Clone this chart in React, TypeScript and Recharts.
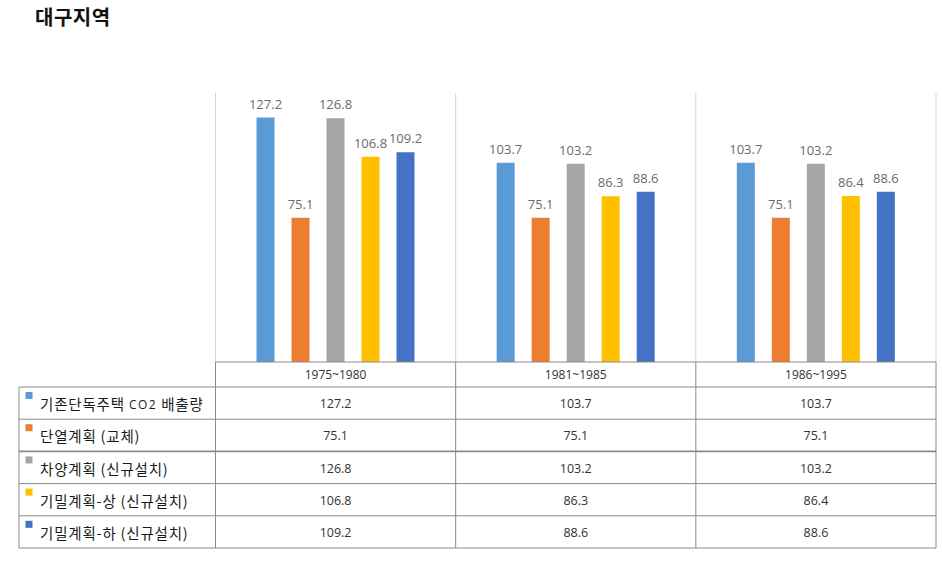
import React from "react";
import { BarChart, Bar, XAxis, YAxis, CartesianGrid, LabelList } from "recharts";

const title = "대구지역";
const periods = ["1975~1980", "1981~1985", "1986~1995"];
const seriesNames = [
  "기존단독주택 CO2 배출량",
  "단열계획 (교체)",
  "차양계획 (신규설치)",
  "기밀계획-상 (신규설치)",
  "기밀계획-하 (신규설치)",
];
const existing = [127.2, 103.7, 103.7];
const insulation = [75.1, 75.1, 75.1];
const shading = [126.8, 103.2, 103.2];
const airtightHigh = [106.8, 86.3, 86.4];
const airtightLow = [109.2, 88.6, 88.6];
const seriesValues = [existing, insulation, shading, airtightHigh, airtightLow];
const seriesColors = ["#5B9BD5", "#ED7D31", "#A5A5A5", "#FFC000", "#4472C4"];
const seriesKeys = ["s0", "s1", "s2", "s3", "s4"];

const data = periods.map((p, i) => {
  const row: Record<string, any> = { period: p };
  seriesKeys.forEach((k, s) => {
    row[k] = seriesValues[s][i];
  });
  return row;
});

const W = 942;
const H = 566;
const PLOT_L = 215.5;
const PLOT_R = 936;
const PLOT_T = 93;
const PLOT_B = 362;
const HEADER_H = 25;
const ROW_H = 32.2;
const TABLE_L = 19;
const TABLE_LINE = "#8a8a8a";
const GRID_LINE = "#d4d4d4";
const FONT = "'Noto Sans CJK KR', 'Noto Sans', sans-serif";
const NUM_FONT = "'Open Sans', 'Noto Sans', sans-serif";

const TableColumn = (props: any) => {
  const { x, y, payload, index } = props;
  const bw = (PLOT_R - PLOT_L) / periods.length;
  const left = x - bw / 2;
  const right = x + bw / 2;
  const bottom = y + HEADER_H + ROW_H * seriesNames.length;
  const els: any[] = [];
  els.push(<line key="ht" x1={left} x2={right} y1={y} y2={y} stroke={TABLE_LINE} strokeWidth={1} />);
  els.push(
    <text key="hd" x={x} y={y + HEADER_H / 2} textAnchor="middle" dominantBaseline="central" fontSize={12} fill="#333" fontFamily={NUM_FONT}>
      {payload.value}
    </text>
  );
  els.push(<line key="vl" x1={left} x2={left} y1={y} y2={bottom} stroke={TABLE_LINE} strokeWidth={1} />);
  if (index === periods.length - 1) {
    els.push(<line key="vr" x1={right} x2={right} y1={y} y2={bottom} stroke={TABLE_LINE} strokeWidth={1} />);
  }
  seriesNames.forEach((name, s) => {
    const top = y + HEADER_H + ROW_H * s;
    const x0 = index === 0 ? TABLE_L : left;
    els.push(
      <line key={"r" + s} x1={x0} x2={right} y1={top} y2={top} stroke={TABLE_LINE} strokeWidth={s === 2 ? 1.6 : 1} />
    );
    els.push(
      <text key={"v" + s} x={x} y={top + ROW_H / 2 + 0.5} textAnchor="middle" dominantBaseline="central" fontSize={12.5} fill="#333" fontFamily={NUM_FONT}>
        {seriesValues[s][index].toFixed(1)}
      </text>
    );
    if (index === 0) {
      els.push(<rect key={"sq" + s} x={25.5} y={top + 5} width={7} height={7} fill={seriesColors[s]} />);
      const parts = name.split("CO2");
      els.push(
        <text key={"n" + s} x={40} y={top + ROW_H / 2 + 0.5} dominantBaseline="central" fontSize={14.5} letterSpacing={0.8} fill="#1a1a1a" fontFamily={FONT}>
          {parts.length > 1 ? (
            <>
              {parts[0]}
              <tspan fontSize={12} letterSpacing={1.5} fontFamily={NUM_FONT}>CO2</tspan>
              {parts[1]}
            </>
          ) : (
            name
          )}
        </text>
      );
    }
  });
  const x0 = index === 0 ? TABLE_L : left;
  els.push(<line key="bt" x1={x0} x2={right} y1={bottom} y2={bottom} stroke={TABLE_LINE} strokeWidth={1} />);
  if (index === 0) {
    els.push(<line key="tl" x1={TABLE_L} x2={TABLE_L} y1={y + HEADER_H} y2={bottom} stroke={TABLE_LINE} strokeWidth={1} />);
  }
  return <g>{els}</g>;
};

const gridX = ({ offset }: any) => {
  const n = periods.length;
  const out: number[] = [];
  for (let i = 0; i <= n; i++) out.push(offset.left + (offset.width * i) / n);
  return out;
};

export default function App() {
  return (
    <div style={{ position: "absolute", left: 0, top: 0, width: W, height: H, background: "#fff" }}>
      <div
        style={{
          position: "absolute",
          left: 35,
          top: 4,
          fontFamily: FONT,
          fontWeight: 700,
          fontSize: 20,
          letterSpacing: 0.5,
          color: "#111",
          lineHeight: "26px",
        }}
      >
        {title}
      </div>
      <div style={{ position: "absolute", left: 0, top: 0 }}>
        <BarChart
          width={W}
          height={H}
          data={data}
          margin={{ top: PLOT_T, right: W - PLOT_R, bottom: 0, left: PLOT_L }}
          barSize={18}
          barGap={17}
          barCategoryGap={41}
        >
          <CartesianGrid horizontal={false} vertical={true} stroke={GRID_LINE} verticalCoordinatesGenerator={gridX} />
          <XAxis
            dataKey="period"
            height={H - PLOT_B}
            axisLine={false}
            tickLine={false}
            tickSize={0}
            tickMargin={0}
            interval={0}
            tick={<TableColumn />}
          />
          <YAxis hide domain={[0, 140]} />
          {seriesKeys.map((k, s) => (
            <Bar key={k} dataKey={k} name={seriesNames[s]} fill={seriesColors[s]} isAnimationActive={false}>
              <LabelList dataKey={k} position="top" offset={9} fill="#6b6b6b" fontSize={13} fontFamily={NUM_FONT} formatter={(v: any) => Number(v).toFixed(1)} />
            </Bar>
          ))}
        </BarChart>
      </div>
    </div>
  );
}
